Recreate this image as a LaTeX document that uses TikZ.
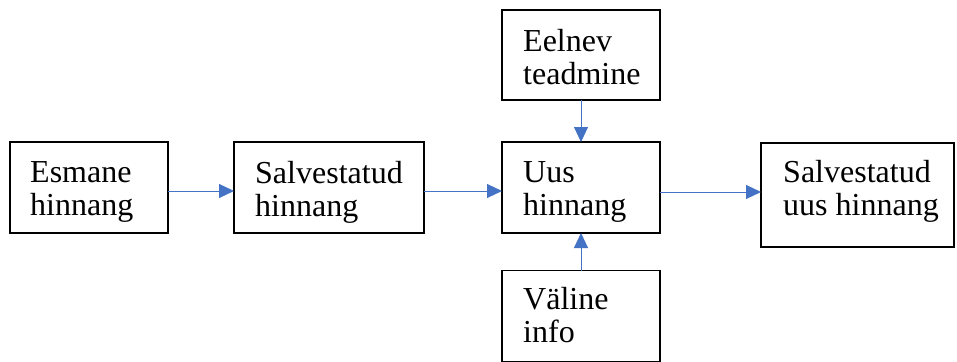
\documentclass[tikz,border=0pt]{standalone}
\usepackage{fontspec}
\setmainfont{Liberation Serif}
\usetikzlibrary{arrows.meta}
\definecolor{arrowblue}{HTML}{4472C4}
\begin{document}
\begin{tikzpicture}[x=1pt,y=-1pt,
  box/.style={draw=black,line width=1.2pt,inner sep=0pt,outer sep=0pt},
  lbl/.style={anchor=north west,inner sep=0pt,align=left,font=\fontsize{32}{33}\selectfont},
  conn/.style={draw=arrowblue,line width=1pt,-{Triangle[length=15pt,width=14pt]}}]
\useasboundingbox (0,0) rectangle (957,361);
% boxes
\node[box,minimum width=158pt,minimum height=91pt] (esm) at (89,187.5) {};
\node[box,minimum width=190pt,minimum height=91pt] (salv) at (329,187.5) {};
\node[box,minimum width=158pt,minimum height=91pt] (uus) at (581,187.5) {};
\node[box,minimum width=158pt,minimum height=90pt] (eel) at (581,55) {};
\node[box,minimum width=158pt,minimum height=91pt] (val) at (581,316) {};
\node[box,minimum width=193pt,minimum height=104pt] (suus) at (857.5,195) {};
% labels
\node[lbl] (tesm) at ([xshift=20pt,yshift=-19pt]esm.north west) {Esmane\\hinnang};
\node[lbl] (tsalv) at ([xshift=21pt,yshift=-19pt]salv.north west) {Salvestatud\\hinnang};
\node[lbl] (tuus) at ([xshift=21pt,yshift=-19pt]uus.north west) {Uus\\hinnang};
\node[lbl] (teel) at ([xshift=21pt,yshift=-19pt]eel.north west) {Eelnev\\teadmine};
\node[lbl] (tval) at ([xshift=21pt,yshift=-17pt]val.north west) {Väline\\info};
\node[lbl] (tsuus) at ([xshift=22pt,yshift=-17pt]suus.north west) {Salvestatud\\uus hinnang};
% connectors
\coordinate (a1) at ([yshift=-3.5pt]esm.east);
\coordinate (a2) at ([yshift=-3.5pt]salv.east);
\coordinate (a3) at ([yshift=-4.5pt]uus.east);
\draw[conn] (a1) -- (a1 -| salv.west);
\draw[conn] (a2) -- (a2 -| uus.west);
\draw[conn] (a3) -- (a3 -| suus.west);
\draw[conn] (eel.south) -- (uus.north);
\draw[conn] (val.north) -- (uus.south);
\end{tikzpicture}
\end{document}
